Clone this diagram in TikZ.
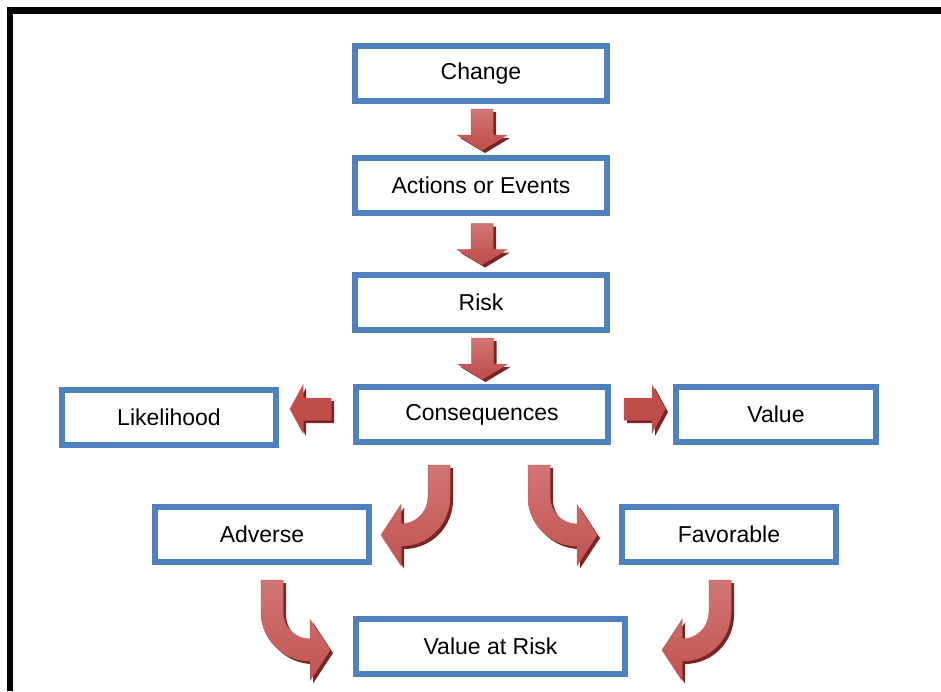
\documentclass[tikz,border=0pt]{standalone}
\usepackage{fontspec}
\setmainfont{Liberation Sans}
\usetikzlibrary{calc}
\definecolor{boxblue}{HTML}{4F81BD}
\definecolor{arrred}{HTML}{BE4B48}
\definecolor{arrlight}{HTML}{D07674}
\definecolor{arrshadow}{HTML}{7A2523}
\definecolor{arredge}{HTML}{C85E5B}
\tikzset{
  box/.style={draw=boxblue, line width=6pt, fill=white, minimum height=55pt,
    inner sep=0pt, font=\fontsize{23}{27}\selectfont},
  arrshade/.style={fill=arrshadow},
  vfill/.style={top color=arrlight, middle color=arrred, bottom color=arrred, draw=arredge, line width=0.5pt},
  hfill/.style={top color=arrred!90!arrlight, bottom color=arrred, draw=arredge, line width=0.5pt},
  cfill/.style={top color=arrlight, middle color=arrred, bottom color=arrred!80!arrlight, draw=arredge, line width=0.5pt},
  downarr/.pic={
    \fill[arrshade, shift={(3,3)}] (-11,0) -- (11,0) -- (11,26) -- (25,26) -- (0,41) -- (-25,26) -- (-11,26) -- cycle;
    \path[vfill] (-11,0) -- (11,0) -- (11,26) -- (25,26) -- (0,41) -- (-25,26) -- (-11,26) -- cycle;
  },
  rightarr/.pic={
    \fill[arrshade, shift={(3,3)}] (0,0) -- (-13,-24) -- (-13,-11) -- (-41,-11) -- (-41,11) -- (-13,11) -- (-13,24) -- cycle;
    \path[hfill] (0,0) -- (-13,-24) -- (-13,-11) -- (-41,-11) -- (-41,11) -- (-13,11) -- (-13,24) -- cycle;
  },
  leftarr/.pic={
    \fill[arrshade, shift={(3,3)}, xscale=-1] (0,0) -- (-13,-24) -- (-13,-11) -- (-41,-11) -- (-41,11) -- (-13,11) -- (-13,24) -- cycle;
    \path[hfill, xscale=-1] (0,0) -- (-13,-24) -- (-13,-11) -- (-41,-11) -- (-41,11) -- (-13,11) -- (-13,24) -- cycle;
  },
  curveright/.pic={
    \fill[arrshade, shift={(3,3)}] (0,0) -- (0,32) .. controls (0,59.06) and (21.94,81) .. (49,81) -- (49,100.5) -- (69,70) -- (49,39.5) -- (49,59) .. controls (34.09,59) and (22,46.91) .. (22,32) -- (22,0) -- cycle;
    \path[cfill] (0,0) -- (0,32) .. controls (0,59.06) and (21.94,81) .. (49,81) -- (49,100.5) -- (69,70) -- (49,39.5) -- (49,59) .. controls (34.09,59) and (22,46.91) .. (22,32) -- (22,0) -- cycle;
  },
  curveleft/.pic={
    \fill[arrshade, shift={(3,3)}, xscale=-1] (0,0) -- (0,32) .. controls (0,59.06) and (21.94,81) .. (49,81) -- (49,100.5) -- (69,70) -- (49,39.5) -- (49,59) .. controls (34.09,59) and (22,46.91) .. (22,32) -- (22,0) -- cycle;
    \path[cfill, xscale=-1] (0,0) -- (0,32) .. controls (0,59.06) and (21.94,81) .. (49,81) -- (49,100.5) -- (69,70) -- (49,39.5) -- (49,59) .. controls (34.09,59) and (22,46.91) .. (22,32) -- (22,0) -- cycle;
  },
}
\begin{document}
\begin{tikzpicture}[x=1pt, y=-1pt]
\useasboundingbox (0,0) rectangle (941,691);
\fill[white] (0,0) rectangle (941,691);
% frame
\draw[line width=6.5pt] (10,691) -- (10,10.5) -- (941,10.5);

% boxes
\node[box, minimum width=252pt] (change) at (481,73.5) {Change};
\node[box, minimum width=252pt] (actions) at (481,185.5) {Actions or Events};
\node[box, minimum width=252pt] (risk) at (481,302.5) {Risk};
\node[box, minimum width=252pt] (cons) at (482,414.5) {Consequences};
\node[box, minimum width=214pt] (like) at (169,417.5) {Likelihood};
\node[box, minimum width=200pt] (value) at (776,414.5) {Value};
\node[box, minimum width=214pt] (adverse) at (262,534.5) {Adverse};
\node[box, minimum width=214pt] (fav) at (729,534.5) {Favorable};
\node[box, minimum width=269pt] (var) at (490.5,646.5) {Value at Risk};

% straight arrows
\pic at ($(change.south)!0.5!(actions.north)+(1,-20.5)$) {downarr};
\pic at ($(actions.south)!0.5!(risk.north)+(1,-20.5)$) {downarr};
\pic at ($(risk.south)!0.5!(cons.north)+(1,-20.5)$) {downarr};
\pic at ($(cons.west)+(-63,-5.5)$) {leftarr};
\pic at ($(cons.east)+(54,-5.5)$) {rightarr};

% curved arrows
\pic at ($(cons.south)+(-32,20)$) {curveleft};
\pic at ($(cons.south)+(46,20)$) {curveright};
\pic at ($(adverse.south)+(-1,15)$) {curveright};
\pic at ($(fav.south)+(2,15)$) {curveleft};
\end{tikzpicture}
\end{document}
